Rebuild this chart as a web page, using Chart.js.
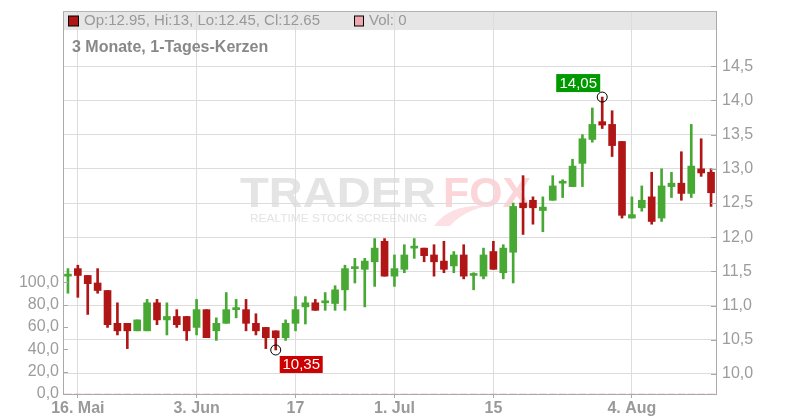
<!DOCTYPE html>
<html><head><meta charset="utf-8">
<script src="https://cdn.jsdelivr.net/npm/chart.js@4"></script>
<style>html,body{margin:0;padding:0;background:#fff}</style>
</head><body>
<canvas id="c" width="800" height="420"></canvas>
<script>
const dates = ['15.05','16.05','17.05','20.05','21.05','22.05','23.05','24.05','27.05','28.05','29.05','30.05','31.05',
'03.06','04.06','05.06','06.06','07.06','10.06','11.06','12.06','13.06','14.06','17.06','18.06','19.06','20.06','21.06',
'24.06','25.06','26.06','27.06','28.06','01.07','02.07','03.07','04.07','05.07','08.07','09.07','10.07','11.07','12.07',
'15.07','16.07','17.07','18.07','19.07','22.07','23.07','24.07','25.07','26.07','29.07','30.07','31.07','01.08','02.08',
'05.08','06.08','07.08','08.08','09.08','12.08','13.08','14.08'];
const opens = [11.43,11.54,11.44,11.33,11.22,10.74,10.74,10.63,10.63,11.04,
10.79,10.84,10.84,10.68,10.94,10.63,10.74,10.94,10.94,10.74,
10.68,10.63,10.53,10.74,10.98,11.04,11.04,11.03,11.23,11.54,
11.53,11.64,11.94,11.43,11.53,11.84,11.84,11.74,11.65,11.58,
11.74,11.44,11.43,11.79,11.48,11.78,12.50,12.54,12.39,12.54,
12.79,12.74,13.08,13.43,13.69,13.65,13.40,12.28,12.43,12.59,
12.28,12.74,12.79,12.64,13.00,12.95];
const closes = [11.44,11.44,11.32,11.22,10.72,10.63,10.63,10.79,11.04,10.79,
10.84,10.72,10.63,10.94,10.53,10.74,10.94,10.95,10.74,10.63,
10.53,10.53,10.74,10.94,11.04,10.93,11.05,11.23,11.54,11.55,
11.65,11.84,11.43,11.54,11.74,11.85,11.73,11.64,11.53,11.74,
11.43,11.45,11.74,11.53,11.84,12.45,12.43,12.43,12.44,12.75,
12.80,13.04,13.44,13.65,13.64,13.34,12.32,12.33,12.54,12.23,
12.75,12.79,12.64,13.04,12.94,12.65];
const highs = [11.54,11.59,11.44,11.54,11.22,11.04,10.74,10.79,11.09,11.09,
11.04,10.94,10.84,11.09,10.94,10.82,11.19,11.09,11.09,10.88,
10.68,10.63,10.79,11.13,11.13,11.09,11.19,11.29,11.59,11.69,
11.69,11.98,11.98,11.74,11.89,11.98,11.84,11.89,11.94,11.79,
11.89,11.48,11.84,11.94,11.89,12.50,12.90,12.59,12.59,12.90,
12.84,13.14,13.50,13.89,14.05,13.85,13.40,12.59,12.75,12.95,
13.00,12.95,13.25,13.65,13.44,13.00];
const lows = [11.18,11.12,10.87,11.18,10.68,10.57,10.37,10.63,10.63,10.72,
10.57,10.68,10.49,10.57,10.53,10.49,10.74,10.82,10.63,10.57,
10.37,10.35,10.49,10.63,10.73,10.93,10.93,10.93,10.93,11.33,
10.98,11.28,11.43,11.28,11.48,11.69,11.64,11.43,11.48,11.48,
11.39,11.23,11.39,11.53,11.39,11.33,12.04,12.19,12.08,12.54,
12.58,12.74,12.74,13.39,13.59,13.18,12.28,12.28,12.38,12.19,
12.23,12.58,12.54,12.58,12.89,12.45];
const volumes = [0,0,0,0,0,0,0,0,0,0,0,0,0,0,0,0,0,0,0,0,0,0,0,0,0,0,0,0,0,0,0,0,0,
0,0,0,0,0,0,0,0,0,0,0,0,0,0,0,0,0,0,0,0,0,0,0,0,0,0,0,0,0,0,0,0,0];
const priceTicks = [10.0,10.5,11.0,11.5,12.0,12.5,13.0,13.5,14.0,14.5];
const volTicks = [0,20,40,60,80,100];
const xTickIdx = [1,13,23,33,43,57];
const xTickText = ['16. Mai','3. Jun','17','1. Jul','15','4. Aug'];
const chartTitle = '3 Monate, 1-Tages-Kerzen';

const UP = '#47a934', DOWN = '#b01616', VOLC = '#f0a8b0';
const candleColors = opens.map((o,i)=> closes[i] >= opens[i] ? UP : DOWN);
const FONT = '"Liberation Sans", Arial, sans-serif';
const fmt1 = v => v.toFixed(1).replace('.', ',');
const noPad = s => { s.paddingTop = 0; s.paddingBottom = 0; s.paddingLeft = 0; s.paddingRight = 0; };

const deco = {
  id: 'deco',
  beforeDraw(chart) {
    const {ctx, chartArea: a} = chart;
    ctx.save();
    ctx.fillStyle = '#e6e6e6';
    ctx.fillRect(a.left, a.top + 1, a.right - a.left, 18);
    ctx.textBaseline = 'alphabetic';
    ctx.font = 'bold 42px ' + FONT;
    const drawFit = (txt, x, y, w, color) => {
      const m = ctx.measureText(txt).width;
      ctx.save(); ctx.translate(x, y); ctx.scale(w / m, 1);
      ctx.fillStyle = color; ctx.fillText(txt, 0, 0); ctx.restore();
    };
    drawFit('TRADER', 240, 207, 196, '#e4e4e4');
    drawFit('FOX', 443, 207, 88, '#fcd5d8');
    ctx.font = '11px ' + FONT;
    drawFit('REALTIME STOCK SCREENING', 250, 222, 177, '#e3e3e3');
    ctx.fillStyle = '#fde0e3';
    ctx.beginPath();
    ctx.moveTo(434, 226);
    ctx.quadraticCurveTo(450, 204, 486, 206);
    ctx.quadraticCurveTo(462, 212, 450, 226);
    ctx.closePath(); ctx.fill();
    ctx.restore();
  },
  afterDraw(chart) {
    const {ctx, chartArea: a, scales} = chart;
    ctx.save();
    ctx.strokeStyle = '#b4b4b4'; ctx.lineWidth = 1;
    ctx.beginPath(); ctx.moveTo(a.left, a.top + 0.5); ctx.lineTo(a.right, a.top + 0.5); ctx.stroke();
    ctx.strokeStyle = '#aaa';
    ctx.beginPath();
    priceTicks.forEach(v => { const y = Math.round(scales.yP.getPixelForValue(v)) + 0.5; ctx.moveTo(a.right - 5, y); ctx.lineTo(a.right, y); });
    volTicks.forEach(v => { const y = Math.round(scales.yV.getPixelForValue(v)) + 0.5; ctx.moveTo(a.left, y); ctx.lineTo(a.left + 5, y); });
    ctx.stroke();
    const n = opens.length - 1;
    const ly0 = a.top + 10;
    ctx.fillStyle = DOWN; ctx.fillRect(68.5, ly0 - 5, 10, 10);
    ctx.strokeStyle = '#000'; ctx.strokeRect(68.5, ly0 - 5, 10, 10);
    ctx.font = '15px ' + FONT; ctx.fillStyle = '#999'; ctx.textBaseline = 'middle'; ctx.textAlign = 'left';
    ctx.fillText('Op:' + opens[n] + ', Hi:' + highs[n] + ', Lo:' + lows[n] + ', Cl:' + closes[n], 84, ly0);
    ctx.fillStyle = VOLC; ctx.fillRect(354.5, ly0 - 5, 9, 10);
    ctx.strokeStyle = '#000'; ctx.strokeRect(354.5, ly0 - 5, 9, 10);
    ctx.fillStyle = '#999'; ctx.fillText('Vol: ' + volumes[n], 369, ly0);
    ctx.font = 'bold 16px ' + FONT; ctx.fillStyle = '#888';
    ctx.fillText(chartTitle, 72, a.top + 37);
    const hi = Math.max(...highs), hiI = highs.indexOf(hi);
    const lo = Math.min(...lows), loI = lows.indexOf(lo);
    const hx = scales.x.getPixelForValue(hiI), hy = scales.yP.getPixelForValue(hi);
    const lx = scales.x.getPixelForValue(loI), ly = scales.yP.getPixelForValue(lo);
    ctx.font = '15px ' + FONT; ctx.textAlign = 'center';
    const hs = hi.toFixed(2).replace('.', ','), ls = lo.toFixed(2).replace('.', ',');
    ctx.fillStyle = '#009a00'; ctx.fillRect(hx - 46, hy - 23, 44, 18);
    ctx.fillStyle = '#fff'; ctx.fillText(hs, hx - 24, hy - 13.5);
    ctx.fillStyle = '#cc0000'; ctx.fillRect(lx + 4, ly + 6, 43, 17);
    ctx.fillStyle = '#fff'; ctx.fillText(ls, lx + 25.5, ly + 15);
    ctx.strokeStyle = '#000'; ctx.lineWidth = 1;
    ctx.beginPath(); ctx.arc(hx, hy, 5, 0, Math.PI * 2); ctx.stroke();
    ctx.beginPath(); ctx.arc(lx, ly, 5, 0, Math.PI * 2); ctx.stroke();
    ctx.restore();
  }
};

new Chart(document.getElementById('c'), {
  type: 'bar',
  data: {
    labels: dates,
    datasets: [
      { label: 'body', data: opens.map((o,i)=>[o, closes[i]]), backgroundColor: candleColors,
        barThickness: 7, minBarLength: 2, grouped: false, yAxisID: 'yP', order: 1, borderWidth: 0 },
      { label: 'wick', data: lows.map((l,i)=>[l, highs[i]]), backgroundColor: candleColors,
        barThickness: 2, grouped: false, yAxisID: 'yP', order: 2, borderWidth: 0 },
      { label: 'Vol', data: volumes, backgroundColor: VOLC, barThickness: 7, grouped: false,
        yAxisID: 'yV', order: 3, borderWidth: 0 }
    ]
  },
  options: {
    responsive: false, animation: false, devicePixelRatio: 1,
    layout: { padding: { top: 11, left: 0, right: 0, bottom: 0 } },
    plugins: { legend: { display: false }, tooltip: { enabled: false }, title: { display: false } },
    scales: {
      x: {
        type: 'category', offset: true,
        grid: { offset: false, drawTicks: true, tickLength: 4,
          color: c => xTickIdx.includes(c.index) ? '#dcdcdc' : 'rgba(0,0,0,0)',
          tickColor: c => xTickIdx.includes(c.index) ? '#aaa' : 'rgba(0,0,0,0)' },
        border: { color: '#aaa' },
        ticks: { autoSkip: false, maxRotation: 0, padding: 1, color: '#999',
          font: { family: FONT, size: 16, weight: 'bold' },
          callback: (v, i) => { const k = xTickIdx.indexOf(i); return k >= 0 ? xTickText[k] : ''; } },
        afterFit: s => { s.height = 26; noPad(s); }
      },
      yP: {
        position: 'right', min: 9.7059, max: 15.309,
        afterBuildTicks: s => { s.ticks = priceTicks.map(v => ({ value: v })); },
        grid: { color: '#dcdcdc', drawTicks: false },
        border: { color: '#aaa' },
        ticks: { padding: 6, color: '#9c9c9c', font: { family: FONT, size: 16 }, callback: v => fmt1(v) },
        afterFit: s => { s.width = 84; noPad(s); }
      },
      yV: {
        position: 'left', min: 0, max: 343.2,
        afterBuildTicks: s => { s.ticks = volTicks.map(v => ({ value: v })); },
        grid: { display: false, drawTicks: false },
        border: { color: '#aaa' },
        ticks: { padding: 4, color: '#9c9c9c', font: { family: FONT, size: 16 }, callback: v => fmt1(v) },
        afterFit: s => { s.width = 63; noPad(s); }
      }
    }
  },
  plugins: [deco]
});
</script>
</body></html>
